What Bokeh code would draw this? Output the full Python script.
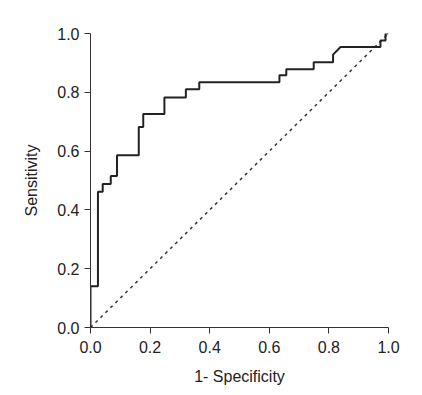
from bokeh.plotting import figure
from bokeh.embed import file_html
from bokeh.resources import INLINE
from bokeh.models import Range1d, FixedTicker, NumeralTickFormatter

# ROC curve step vertices (1 - specificity, sensitivity)
fpr = [0.0, 0.0, 0.025, 0.025, 0.041, 0.041, 0.068, 0.068, 0.089, 0.089,
       0.162, 0.162, 0.177, 0.177, 0.248, 0.248, 0.320, 0.320, 0.365, 0.365,
       0.634, 0.634, 0.657, 0.657, 0.749, 0.749, 0.814, 0.814, 0.839, 0.973,
       0.973, 0.99, 0.99, 1.0]
tpr = [0.0, 0.14, 0.14, 0.462, 0.462, 0.488, 0.488, 0.515, 0.515, 0.586,
       0.586, 0.682, 0.682, 0.726, 0.726, 0.782, 0.782, 0.81, 0.81, 0.834,
       0.834, 0.858, 0.858, 0.878, 0.878, 0.902, 0.902, 0.928, 0.954, 0.954,
       0.976, 0.976, 1.0, 1.0]
ref_x = [0.0, 1.0]
ref_y = [0.0, 1.0]
ticks = [0.0, 0.2, 0.4, 0.6, 0.8, 1.0]

p = figure(width=414, height=387, output_backend="svg", toolbar_location=None,
           x_range=Range1d(0, 1), y_range=Range1d(0, 1),
           min_border_left=90, min_border_right=26, min_border_top=33,
           min_border_bottom=59)
p.outline_line_color = None
p.xgrid.visible = False
p.ygrid.visible = False
p.background_fill_color = "white"

p.line(ref_x, ref_y, line_color="#333333", line_width=1.5, line_dash="3 4")
p.line(fpr, tpr, line_color="#222222", line_width=2)

for ax in (p.xaxis[0], p.yaxis[0]):
    ax.ticker = FixedTicker(ticks=ticks)
    ax.formatter = NumeralTickFormatter(format="0.0")
    ax.minor_tick_line_color = None
    ax.axis_line_color = "#333333"
    ax.major_tick_line_color = "#333333"
    ax.major_tick_out = 6
    ax.major_tick_in = 0
    ax.major_label_text_font = "Liberation Sans"
    ax.major_label_text_font_size = "16px"
    ax.major_label_text_color = "#222222"
    ax.axis_label_text_font = "Liberation Sans"
    ax.axis_label_text_font_size = "16px"
    ax.axis_label_text_font_style = "normal"
    ax.axis_label_text_color = "#222222"

p.xaxis[0].axis_label = "1- Specificity"
p.yaxis[0].axis_label = "Sensitivity"
p.xaxis[0].major_label_standoff = 7
p.xaxis[0].axis_label_standoff = 12
p.yaxis[0].major_label_standoff = 5
p.yaxis[0].axis_label_standoff = 14

open("out.html", "w").write(file_html(p, INLINE))
